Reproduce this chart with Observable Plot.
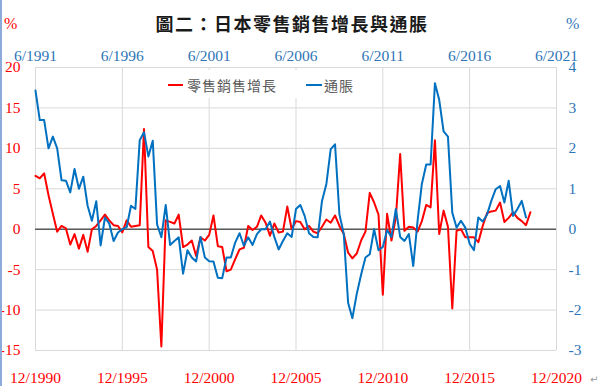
<!DOCTYPE html>
<html><head><meta charset="utf-8">
<script src="https://cdn.jsdelivr.net/npm/d3@7"></script>
<script src="https://cdn.jsdelivr.net/npm/@observablehq/plot@0.6"></script>
<style>
body{margin:0;background:#fff}
#wrap{position:relative;width:600px;height:386px;overflow:hidden;background:#fff}
#wrap svg{position:absolute;left:0;top:0}
#wrap svg text{font-family:"Liberation Serif",serif}
.abs{position:absolute;white-space:nowrap}
#title{left:0;width:584px;top:9px;text-align:center;font-family:"Noto Sans CJK TC";font-weight:bold;font-size:18px;letter-spacing:1.5px;color:#1a1a1a;line-height:28px}
.pct{top:14px;font-family:"Liberation Serif";font-size:16px;line-height:20px}
#legendBox{left:160px;top:70px;width:202px;height:28px;background:#fff}
.sw{height:2px;top:84px}
.lt{top:74px;font-family:"Noto Sans CJK TC";font-size:14px;letter-spacing:1px;color:#595959;line-height:22px}
#edge{left:0;top:0;width:2px;height:386px;background:#8eaadb}
#para{left:590px;top:374px;font-size:10px;color:#999;font-family:"DejaVu Sans"}
</style></head><body><div id="wrap"></div>
<script>
// Retail sales growth (%), quarterly from 12/1990 — left axis, bottom dates
const retailStart = "12/1990";
const retailGrowth = [6.6,6.3,6.9,4.2,1.9,-0.3,0.4,0.1,-1.9,-0.6,-2.4,-0.7,-2.8,0,0.4,1.1,1.8,1.1,0.5,0.4,
-0.4,1.1,0.3,0.4,0.5,12.4,-2.2,-2.7,-5.0,-14.5,1.1,0.9,0.7,1.8,-2.2,-1.9,-1.4,-3.3,-1.0,-1.4,
-0.7,1.7,-2.1,-2.2,-5.2,-5.0,-3.7,-2.5,-2.3,0.4,-0.1,0.3,1.7,0.8,-0.8,0.7,-0.4,-0.3,2.8,0,
1.0,0.9,0,0.4,-0.3,-0.5,0.3,1.2,0.8,1.7,0.4,-0.6,-2.9,-3.6,-3.0,-1.4,-0.3,4.5,3.3,1.8,
-8.1,1.9,-1.4,1.4,9.3,-0.2,0.3,0.2,-0.3,1.0,3.0,2.7,11.0,-0.6,2.3,0.3,-9.8,-0.2,0,-1.0,
-1.0,-1.0,-1.6,0.4,2.0,2.2,2.3,3.3,0.9,1.4,2.1,1.4,1.0,0.5,2.1];
// Inflation (%), quarterly from 6/1991 — right axis, top dates
const inflationStart = "6/1991";
const inflation = [3.43,2.70,2.70,2.0,2.29,2.0,1.21,1.2,0.91,1.49,1.0,1.30,0.58,0.21,0.69,-0.40,0.29,0.14,-0.29,-0.08,
0,0.05,0.58,0.5,2.2,2.4,1.8,2.19,0.12,-0.2,0.6,-0.39,-0.29,-0.2,-1.1,-0.52,-0.7,-0.8,-0.19,-0.7,
-0.79,-0.8,-1.2,-1.21,-0.7,-0.7,-0.33,-0.1,-0.41,-0.2,-0.39,-0.12,0,0,0.19,-0.19,-0.5,-0.29,-0.1,-0.19,
0.5,0.6,0.33,-0.1,-0.19,-0.2,0.7,1.12,1.98,2.1,0.37,-0.12,-1.82,-2.2,-1.6,-1.12,-0.7,-0.62,0,-0.52,
-0.44,-0.02,-0.19,0.5,-0.19,-0.29,-0.12,-0.91,0.21,1.12,1.6,1.6,3.61,3.2,2.42,2.29,0.41,0.04,0.21,0.04,
-0.36,-0.52,0.29,0.19,0.36,0.7,0.99,1.07,0.66,1.2,0.33,0.5,0.7,0.29];
const leftTicks = [-15,-10,-5,0,5,10,15,20];
const rightTicks = [-3,-2,-1,0,1,2,3,4];
const bottomTickLabels = ["12/1990","12/1995","12/2000","12/2005","12/2010","12/2015","12/2020"];
const topTickLabels = ["6/1991","6/1996","6/2001","6/2006","6/2011","6/2016","6/2021"];
const titleText = "圖二：日本零售銷售增長與通脹";
const seriesNames = ["零售銷售增長","通脹"];
const colors = {red:"#ff0000", blue:"#0070c0", blueText:"#2e75b6", grid:"#d9d9d9", zero:"#595959"};

const parseMY = s => { const [m,y] = s.split("/").map(Number); return new Date(Date.UTC(y, m-1, 1)); };
const bottomDates = bottomTickLabels.map(parseMY);
const topDates = topTickLabels.map(parseMY);
const axisShift = d3.utcMonth.count(topDates[0], bottomDates[0]); // -6 months
const bottomLabelBy = new Map(bottomDates.map((d,i)=>[+d, bottomTickLabels[i]]));
const topLabelBy = new Map(bottomDates.map((d,i)=>[+d, topTickLabels[i]]));
const ratio = (leftTicks.at(-1)-leftTicks[0])/(rightTicks.at(-1)-rightTicks[0]);

const rs = parseMY(retailStart), is = parseMY(inflationStart);
const red = retailGrowth.map((v,i)=>({date:d3.utcMonth.offset(rs,3*i), value:v}));
const blue = inflation.map((v,i)=>({date:d3.utcMonth.offset(is,3*i), value:v}));

const fs = 15.5, ff = "Liberation Serif";
const chart = Plot.plot({
  width:600, height:386, marginLeft:35, marginRight:44, marginTop:67, marginBottom:36,
  style:{background:"transparent", fontFamily:ff, fontSize:fs+"px"},
  x:{type:"utc", domain:[bottomDates[0], bottomDates.at(-1)], axis:null},
  y:{domain:[leftTicks[0], leftTicks.at(-1)], axis:null},
  marks:[
    Plot.gridY(leftTicks, {stroke:colors.grid, strokeOpacity:1, strokeWidth:1}),
    Plot.gridX(bottomDates, {stroke:colors.grid, strokeOpacity:1, strokeWidth:1}),
    Plot.ruleY([0], {stroke:colors.zero, strokeWidth:1.5}),
    Plot.lineY(red, {x:"date", y:"value", stroke:colors.red, strokeWidth:2}),
    Plot.lineY(blue, {x:d=>d3.utcMonth.offset(d.date, axisShift), y:d=>d.value*ratio, stroke:colors.blue, strokeWidth:2}),
    Plot.axisY(leftTicks, {anchor:"left", label:null, tickSize:0, tickPadding:15, tickFormat:d=>String(d), fill:colors.red, fontSize:fs, fontFamily:ff}),
    Plot.axisY(rightTicks.map(v=>v*ratio), {anchor:"right", label:null, tickSize:0, tickPadding:12, tickFormat:d=>String(d/ratio), fill:colors.blueText, fontSize:fs, fontFamily:ff}),
    Plot.axisX(bottomDates, {anchor:"bottom", label:null, tickSize:0, tickPadding:21, tickFormat:d=>bottomLabelBy.get(+d), fill:colors.red, fontSize:fs, fontFamily:ff}),
    Plot.axisX(bottomDates, {anchor:"top", label:null, tickSize:0, tickPadding:7, tickFormat:d=>topLabelBy.get(+d), fill:colors.blueText, fontSize:fs, fontFamily:ff})
  ]
});
const wrap = document.getElementById("wrap");
wrap.appendChild(chart);
function addDiv(id, cls, text, style){ const e=document.createElement("div"); if(id) e.id=id; e.className="abs "+(cls||""); if(text) e.textContent=text; if(style) Object.assign(e.style, style); wrap.appendChild(e); return e; }
addDiv("title","",titleText);
addDiv(null,"pct","%",{left:"4px",color:colors.red});
addDiv(null,"pct","%",{left:"566px",color:colors.blueText});
addDiv("legendBox","","");
addDiv(null,"sw","",{left:"168px",width:"15px",background:colors.red});
addDiv(null,"lt",seriesNames[0],{left:"187px"});
addDiv(null,"sw","",{left:"306px",width:"16px",background:colors.blue});
addDiv(null,"lt",seriesNames[1],{left:"324px"});
addDiv("edge","","");
addDiv("para","","↵");
</script></body></html>
